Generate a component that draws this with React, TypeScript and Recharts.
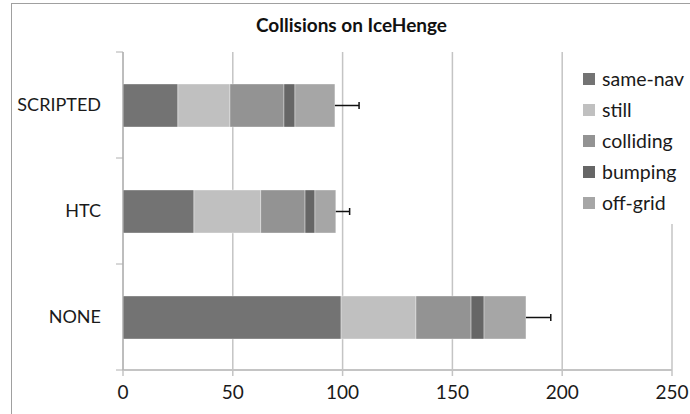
import { BarChart, Bar, XAxis, YAxis, CartesianGrid, Legend } from "recharts";

const categories = ["SCRIPTED", "HTC", "NONE"];
const sameNav = [25, 32.3, 99.3];
const still = [23.7, 30.4, 34.1];
const colliding = [24.6, 20.2, 25.1];
const bumping = [5, 4.5, 5.9];
const offGrid = [18.2, 9.5, 19.1];
const errors = [11, 6.3, 11.3];
const xTicks = [0, 50, 100, 150, 200, 250];

const series = [
  { key: "sameNav", name: "same-nav", values: sameNav, color: "#737373" },
  { key: "still", name: "still", values: still, color: "#c0c0c0" },
  { key: "colliding", name: "colliding", values: colliding, color: "#939393" },
  { key: "bumping", name: "bumping", values: bumping, color: "#666666" },
  { key: "offGrid", name: "off-grid", values: offGrid, color: "#a6a6a6" },
];

const data = categories.map((name, i) => {
  const row: any = { name, err: errors[i] };
  series.forEach((s) => (row[s.key] = s.values[i]));
  return row;
});

const FONT = "Lato, 'Open Sans', sans-serif";
const W = 690;
const H = 414;
const TOP = 52;
const BOTTOM = 370;
const AXIS_X = 123;
const BAND = (BOTTOM - TOP) / categories.length;

/* error whisker drawn inside the invisible stacked segment */
function ErrShape(props: any) {
  const { x, y, width, height } = props;
  if (width == null || width <= 0) return null;
  const cy = y + height / 2;
  const ex = x + width;
  return (
    <g stroke="#111" strokeWidth={1.5}>
      <line x1={x} y1={cy} x2={ex} y2={cy} />
      <line x1={ex} y1={cy - 3.5} x2={ex} y2={cy + 3.5} />
    </g>
  );
}

function CatTick(props: any) {
  const { y, payload, index } = props;
  return (
    <g>
      <line x1={AXIS_X - 7} x2={AXIS_X} y1={y - BAND / 2} y2={y - BAND / 2} stroke="#b0b0b0" />
      {index === categories.length - 1 && (
        <line x1={AXIS_X - 7} x2={AXIS_X} y1={y + BAND / 2} y2={y + BAND / 2} stroke="#b0b0b0" />
      )}
      <text
        x={AXIS_X - 22}
        y={y}
        dy="0.35em"
        textAnchor="end"
        fontFamily={FONT}
        fontSize={18}
        fill="#1a1a1a"
      >
        {payload.value}
      </text>
    </g>
  );
}

function LegendBox() {
  return (
    <div style={{ paddingTop: 11, fontFamily: FONT, fontSize: 19.5, color: "#1a1a1a" }}>
      {series.map((s) => (
        <div key={s.key} style={{ display: "flex", alignItems: "center", height: 31 }}>
          <span
            style={{
              display: "inline-block",
              width: 12,
              height: 12,
              background: s.color,
              marginLeft: 8,
              marginRight: 7,
            }}
          />
          <span>{s.name}</span>
        </div>
      ))}
    </div>
  );
}

export default function App() {
  return (
    <div
      style={{
        position: "absolute",
        left: 0,
        top: 0,
        width: W,
        height: H,
        overflow: "hidden",
        background: "#fff",
      }}
    >
      <div
        style={{
          position: "absolute",
          left: 11,
          top: 3,
          width: 700,
          height: 440,
          border: "1px solid #a0a0a0",
        }}
      />
      <div
        style={{
          position: "absolute",
          left: 11,
          top: 13,
          width: 681,
          textAlign: "center",
          fontFamily: FONT,
          fontWeight: 700,
          fontSize: 19,
          color: "#111",
        }}
      >
        Collisions on IceHenge
      </div>
      <div style={{ position: "absolute", left: 0, top: 0 }}>
        <BarChart
          width={W}
          height={H}
          data={data}
          layout="vertical"
          margin={{ top: TOP, right: W - 672, bottom: 14, left: 0 }}
        >
          <CartesianGrid horizontal={false} stroke="#c4c4c4" strokeWidth={1.5} />
          <XAxis
            type="number"
            domain={[0, 250]}
            ticks={xTicks}
            height={H - BOTTOM - 14}
            interval={0}
            axisLine={{ stroke: "#c4c4c4", strokeWidth: 2 }}
            tickLine={{ stroke: "#c4c4c4", strokeWidth: 1.5 }}
            tickSize={6}
            tickMargin={10}
            tick={{ fontFamily: FONT, fontSize: 19, fill: "#1a1a1a" }}
          />
          <YAxis
            type="category"
            dataKey="name"
            width={AXIS_X}
            axisLine={{ stroke: "#a8a8a8", strokeWidth: 1 }}
            tickLine={false}
            tick={<CatTick />}
            interval={0}
          />
          <Legend
            layout="horizontal"
            verticalAlign="middle"
            align="center"
            wrapperStyle={{ left: 575, top: TOP, width: 115, height: 172, background: "#fff" }}
            content={<LegendBox />}
          />
          {series.map((s) => (
            <Bar
              key={s.key}
              dataKey={s.key}
              name={s.name}
              stackId="a"
              fill={s.color}
              stroke="rgba(255,255,255,0.35)"
              strokeWidth={1}
              barSize={43}
              isAnimationActive={false}
            />
          ))}
          <Bar
            dataKey="err"
            stackId="a"
            fill="none"
            legendType="none"
            barSize={43}
            shape={<ErrShape />}
            isAnimationActive={false}
          />
        </BarChart>
      </div>
    </div>
  );
}
